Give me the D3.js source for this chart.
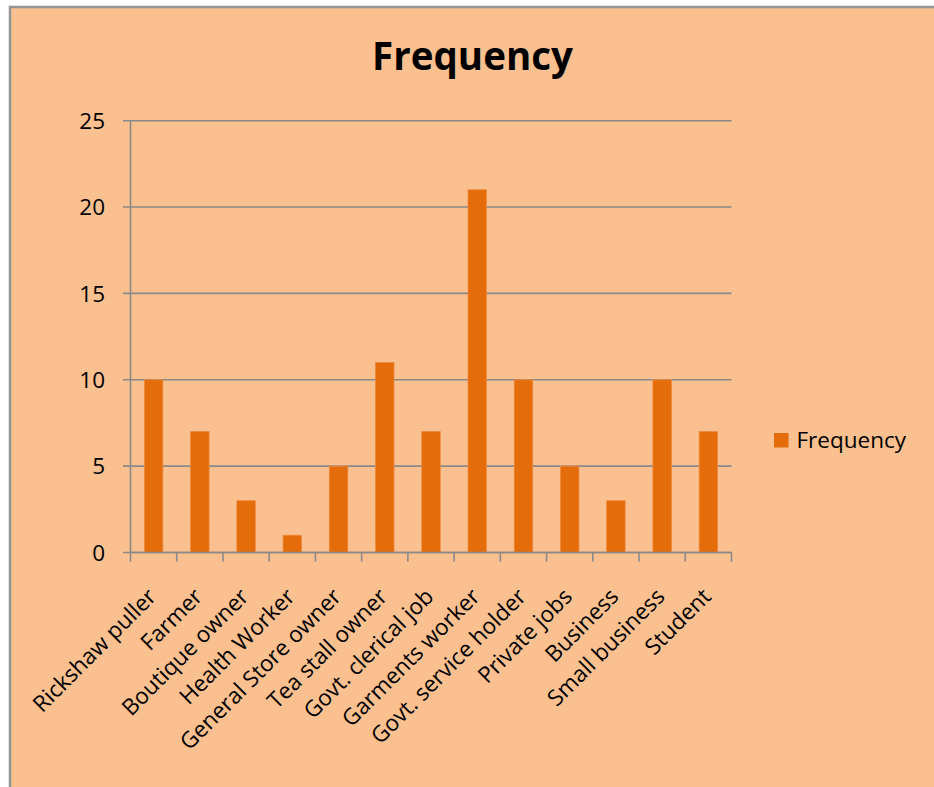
<!DOCTYPE html>
<html>
<head>
<meta charset="utf-8">
<script src="https://cdn.jsdelivr.net/npm/d3@7"></script>
<style>
  html, body { margin: 0; padding: 0; background: #ffffff; overflow: hidden; }
  svg { display: block; overflow: hidden; }
  text { font-family: "Open Sans", "Noto Sans", sans-serif; fill: #000; }
</style>
</head>
<body>
<svg id="chart" width="934" height="787"></svg>
<script>
// Occupations of respondents and how many fall in each
const categories = [
  "Rickshaw puller", "Farmer", "Boutique owner", "Health Worker",
  "General Store owner", "Tea stall owner", "Govt. clerical job",
  "Garments worker", "Govt. service holder", "Private jobs",
  "Business", "Small business", "Student"
];
const frequency = [10, 7, 3, 1, 5, 11, 7, 21, 10, 5, 3, 10, 7];
const yTicks = [0, 5, 10, 15, 20, 25];
const seriesName = "Frequency";

const svg = d3.select("#chart");

// Chart area: peach panel with a grey frame on the left and top
svg.append("rect")
  .attr("x", 10).attr("y", 7)
  .attr("width", 960).attr("height", 820)
  .attr("fill", "#FAC090")
  .attr("stroke", "#959595")
  .attr("stroke-width", 2.5);

// Plot box
const plotLeft = 130.5, plotRight = 731.5, plotTop = 120.7, plotBottom = 552.5;

const x = d3.scaleBand()
  .domain(categories)
  .range([plotLeft, plotRight])
  .paddingInner(0.6)
  .paddingOuter(0.3);

const y = d3.scaleLinear()
  .domain([0, 25])
  .range([plotBottom, plotTop]);

const axisColor = "#8a8a8a";

// Horizontal gridlines with short ticks on the left
svg.append("g").selectAll("line")
  .data(yTicks)
  .join("line")
  .attr("x1", plotLeft - 7.5)
  .attr("x2", plotRight)
  .attr("y1", d => y(d))
  .attr("y2", d => y(d))
  .attr("stroke", axisColor)
  .attr("stroke-width", 1.6);

// Y tick labels
svg.append("g").selectAll("text")
  .data(yTicks)
  .join("text")
  .attr("x", 105)
  .attr("y", d => y(d))
  .attr("dy", "0.36em")
  .attr("text-anchor", "end")
  .attr("font-size", 22.5)
  .text(d => d);

// Y axis line
svg.append("line")
  .attr("x1", plotLeft).attr("x2", plotLeft)
  .attr("y1", plotTop).attr("y2", plotBottom)
  .attr("stroke", axisColor)
  .attr("stroke-width", 1.6);

// Bars
svg.append("g").selectAll("rect")
  .data(categories.map((c, i) => ({ c, v: frequency[i] })))
  .join("rect")
  .attr("x", d => x(d.c))
  .attr("width", x.bandwidth())
  .attr("y", d => y(d.v))
  .attr("height", d => y(0) - y(d.v))
  .attr("fill", "#E46C0A")
  .attr("stroke", "#EE8A3E")
  .attr("stroke-width", 0.8);

// X axis line and tick marks at category boundaries
svg.append("line")
  .attr("x1", plotLeft).attr("x2", plotRight)
  .attr("y1", plotBottom).attr("y2", plotBottom)
  .attr("stroke", axisColor)
  .attr("stroke-width", 1.6);

const gap = (x.step() - x.bandwidth()) / 2;
const boundaries = categories.map(c => x(c) - gap)
  .concat([x(categories[categories.length - 1]) + x.bandwidth() + gap]);

svg.append("g").selectAll("line")
  .data(boundaries)
  .join("line")
  .attr("x1", d => d).attr("x2", d => d)
  .attr("y1", plotBottom).attr("y2", plotBottom + 9)
  .attr("stroke", axisColor)
  .attr("stroke-width", 1.6);

// Rotated category labels
svg.append("g").selectAll("text")
  .data(categories)
  .join("text")
  .attr("text-anchor", "end")
  .attr("font-size", 22.5)
  .attr("transform", d => {
    const cx = x(d) + x.bandwidth() / 2 + 4;
    return `translate(${cx},${598}) rotate(-45)`;
  })
  .text(d => d);

// Title
svg.append("text")
  .attr("x", 472.5)
  .attr("y", 69.5)
  .attr("text-anchor", "middle")
  .attr("font-size", 38.5)
  .attr("font-weight", "bold")
  .text(seriesName);

// Legend
const lg = svg.append("g");
lg.append("rect")
  .attr("x", 774).attr("y", 433)
  .attr("width", 14.5).attr("height", 14.5)
  .attr("fill", "#E46C0A");
lg.append("text")
  .attr("x", 796.5).attr("y", 447.5)
  .attr("font-size", 22.5)
  .text(seriesName);
</script>
</body>
</html>
